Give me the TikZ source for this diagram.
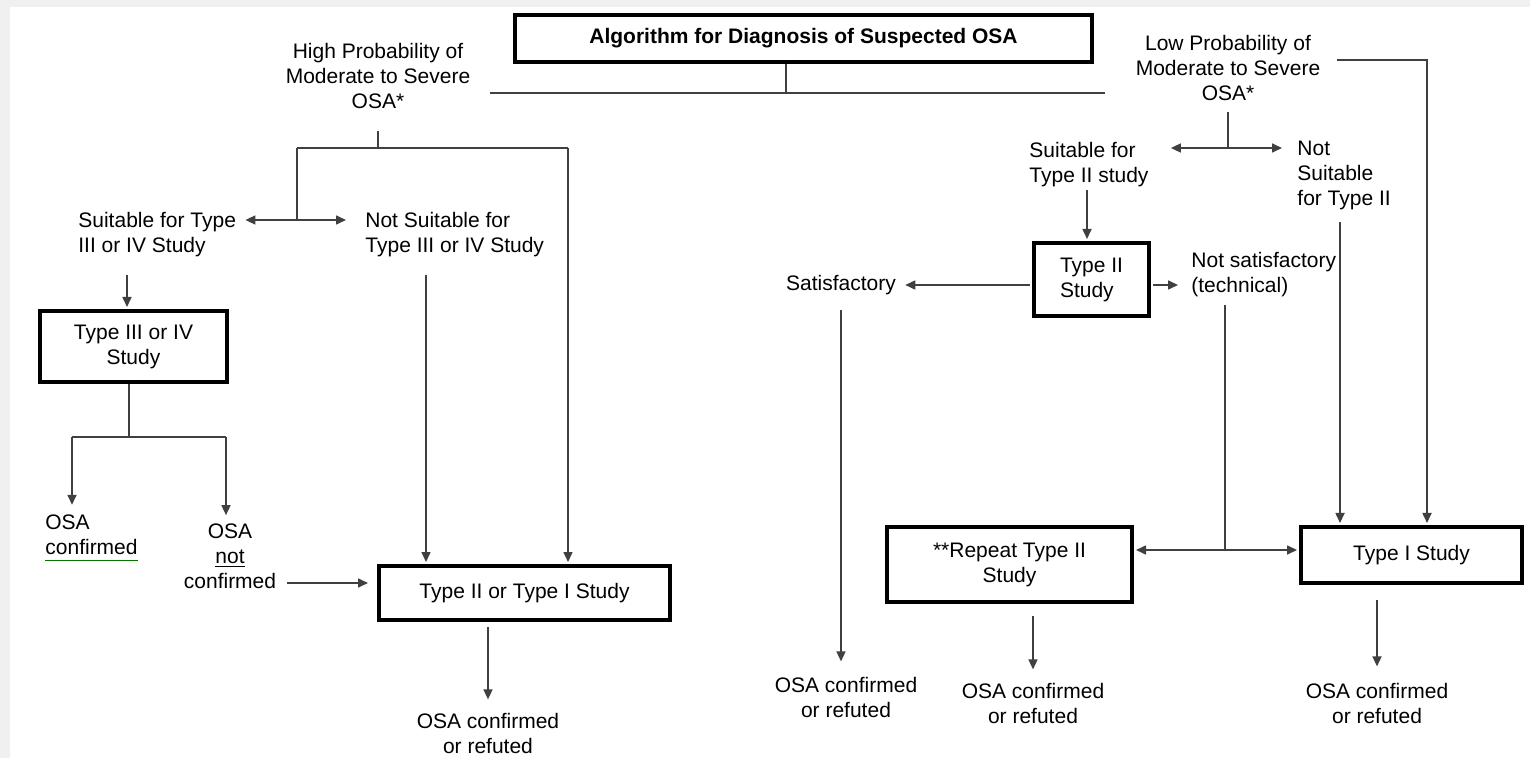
\documentclass[tikz,border=0pt]{standalone}
\usepackage{fontspec}
\setmainfont{Liberation Sans}
\usetikzlibrary{arrows.meta}
\newcommand{\spellul}[1]{\setbox0\hbox{#1}\rlap{\color{green!45!black}\rule[-3pt]{\wd0}{0.6pt}}\box0}

\begin{document}
\begin{tikzpicture}[
  x=0.5pt, y=-0.5pt,  % 1 unit = 1 px of the 1530x758 sheet, y grows downward
  font=\fontsize{10.5}{12.5}\selectfont,
  box/.style={draw=black, line width=2pt, inner sep=0pt, align=center},
  lbl/.style={inner sep=0pt, align=center},
  lbll/.style={inner sep=0pt, align=left, anchor=west},
  link/.style={draw=black!75, line width=0.8pt},
  arr/.style={link, -{Triangle[length=5pt,width=4.5pt]}, shorten >=1pt},
  darr/.style={link, {Triangle[length=5pt,width=4.5pt]}-{Triangle[length=5pt,width=4.5pt]}}
]
\useasboundingbox (0,0) rectangle (1530,758);
\fill[black!6] (0,0) rectangle (1530,758);
\fill[white] (10,7) rectangle (1530,758);

% ---------- title ----------
\node[box, minimum width=288.5pt, minimum height=23.5pt, font=\fontsize{10.5}{12.5}\selectfont\bfseries]
  (title) at (803.5,38.5) {Algorithm for Diagnosis of Suspected OSA};
\coordinate (tdrop) at (786,93);
\coordinate (barL) at (490,93);
\coordinate (barR) at (1105,93);
\draw[link] (tdrop |- title.south) -- (tdrop);
\draw[link] (barL) -- (barR);

% ============ left branch: high probability ============
\node[lbl] (high) at (378,76) {High Probability of\\Moderate to Severe\\OSA*};
\coordinate (hL) at (297,148);
\coordinate (hR) at (568,148);
\coordinate (hsplit) at (297,220);
\draw[link, shorten <=11pt] (high.south) -- (high.south |- hL);
\draw[link] (hL) -- (hR);
\draw[link] (hL) -- (hsplit);

\node[lbll] (s34) at (78,235) {Suitable for Type\\III or IV Study};
\node[lbll] (ns34) at (365,235) {Not Suitable for\\Type III or IV Study};
\draw[darr, shorten <=4.5pt, shorten >=9.5pt] (s34.east |- hsplit) -- (ns34.west |- hsplit);

\node[box, minimum width=93.5pt, minimum height=35.5pt] (t34) at (133.5,346.5) {Type III or IV\\Study};
\coordinate (s34drop) at (127,275);
\draw[arr] (s34drop) -- (s34drop |- t34.north);

\node[lbll] (conf) at (45,538) {OSA\\\spellul{confirmed}};
\node[lbl] (notconf) at (230,556) {OSA\\\underline{not}\\confirmed};
\coordinate (t34split) at (129,437);
\coordinate (cL) at (72,437);
\coordinate (cR) at (226,437);
\draw[link] (t34split |- t34.south) -- (t34split);
\draw[link] (cL) -- (cR);
\draw[arr, shorten >=5pt] (cL) -- (cL |- conf.north);
\draw[arr, shorten >=4pt] (cR) -- (cR |- notconf.north);

\node[box, minimum width=145.5pt, minimum height=27pt] (t21) at (524.5,593) {Type II or Type I Study};
\coordinate (ncarrow) at (287,583);
\coordinate (nsdrop) at (426,275);
\draw[arr, shorten >=4.5pt] (ncarrow) -- (ncarrow -| t21.west);
\draw[arr] (nsdrop) -- (nsdrop |- t21.north);
\draw[arr] (hR) -- (hR |- t21.north);

\node[lbl] (res1) at (488,733) {OSA confirmed\\or refuted};
\draw[arr, shorten <=2.5pt, shorten >=6.5pt] (res1.north |- t21.south) -- (res1.north);

% ============ right branch: low probability ============
\node[lbl] (low) at (1228,68) {Low Probability of\\Moderate to Severe\\OSA*};
\coordinate (lowR) at (1427,60);
\coordinate (lowjoin) at (1226,148);
\draw[link, shorten <=5.5pt] (low.south) -- (low.south |- lowjoin);

\node[lbll] (s2) at (1029,165) {Suitable for\\Type II study};
\node[lbll] (ns2) at (1297,175) {Not\\Suitable\\for Type II};
\draw[darr, shorten <=11pt, shorten >=7.5pt] (s2.east |- lowjoin) -- (ns2.west |- lowjoin);

\node[box, minimum width=57.5pt, minimum height=36.5pt, align=left] (t2) at (1091.5,279.5) {Type II\\Study};
\coordinate (s2drop) at (1087,190);
\draw[arr] (s2drop) -- (s2drop |- t2.north);

\node[lbl] (sat) at (841,285) {Satisfactory};
\node[lbll] (nsat) at (1191,275) {Not satisfactory\\(technical)};
\draw[arr, shorten <=1pt, shorten >=4.5pt] (t2.west |- sat) -- (sat.east);
\draw[arr, shorten <=1pt, shorten >=6.5pt] (t2.east |- sat) -- (nsat.west |- sat);

\node[box, minimum width=122.5pt, minimum height=37.5pt] (rep) at (1009.5,564.5) {**Repeat Type II\\Study};
\node[box, minimum width=110.5pt, minimum height=28pt] (t1) at (1411.5,555) {Type I Study};
\coordinate (nsatjoin) at (1225,550);
\coordinate (ns2drop) at (1340,222);
\draw[link, shorten <=3.5pt] (nsatjoin |- nsat.south) -- (nsatjoin);
\draw[darr, shorten <=1pt, shorten >=1pt] (rep.east |- nsatjoin) -- (t1.west |- nsatjoin);
\draw[arr] (ns2drop) -- (ns2drop |- t1.north);
\draw[arr, shorten <=8pt] (low.east |- lowR) -- (lowR) -- (lowR |- t1.north);

\node[lbl] (res2) at (846,697) {OSA confirmed\\or refuted};
\node[lbl] (res3) at (1033,703) {OSA confirmed\\or refuted};
\node[lbl] (res4) at (1377,703) {OSA confirmed\\or refuted};
\draw[arr, shorten <=7.5pt, shorten >=7.5pt] (sat.south) -- (sat.south |- res2.north);
\draw[arr, shorten <=6pt, shorten >=6.5pt] (res3.north |- rep.south) -- (res3.north);
\draw[arr, shorten <=7.5pt, shorten >=8pt] (res4.north |- t1.south) -- (res4.north);

\end{tikzpicture}
\end{document}
